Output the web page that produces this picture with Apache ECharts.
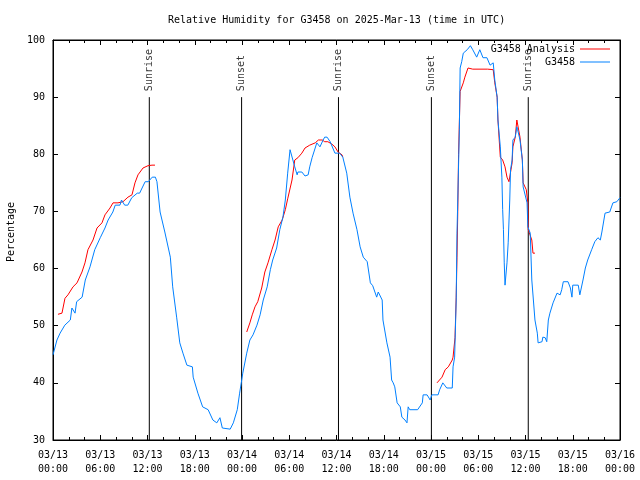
<!DOCTYPE html>
<html><head><meta charset="utf-8">
<script src="https://cdn.jsdelivr.net/npm/echarts@6/dist/echarts.min.js"></script>
<style>html,body{margin:0;padding:0;background:#fff}#c{width:640px;height:480px}</style>
</head><body><div id="c"></div>
<script>
// hours since 2025-03-13 00:00 UTC
const obsHours = [0,0.25,0.5,0.9,1.5,2.2,2.4,2.8,3.0,3.7,4.1,4.7,5.3,6.0,6.6,7.0,7.6,7.9,8.5,8.7,9.1,9.5,10.0,10.7,11.0,11.7,12.1,12.6,13.0,13.2,13.6,14.2,14.9,15.2,15.7,16.1,16.5,17.0,17.7,17.8,18.4,19.0,19.7,20.3,20.8,21.2,21.5,22.5,22.9,23.4,23.7,24.1,24.6,25.0,25.4,25.9,26.3,26.7,27.2,27.6,27.9,28.4,28.8,29.2,29.5,29.8,30.1,30.3,30.7,31.0,31.1,31.6,32.0,32.4,32.6,32.9,33.0,33.5,33.9,34.3,34.5,34.8,35.2,35.8,36.4,36.8,37.3,37.7,38.1,38.6,39.0,39.4,39.9,40.3,40.6,41.1,41.3,41.8,41.9,42.4,42.8,43.0,43.2,43.4,43.7,44.1,44.3,44.7,44.95,45.1,45.3,46.3,46.9,47.0,47.5,47.9,48.1,48.9,49.1,49.5,50.0,50.7,50.8,51.0,51.2,51.3,51.4,51.6,51.7,51.9,52.1,52.6,53.0,53.3,53.8,54.2,54.6,55.1,55.5,55.9,56.1,56.4,56.5,56.8,57.0,57.1,57.2,57.3,57.4,57.65,57.8,58.0,58.1,58.3,58.4,58.7,58.9,59.0,59.3,59.6,59.7,60.2,60.3,60.6,60.8,61.0,61.2,61.5,61.6,62.1,62.2,62.5,62.7,62.9,63.1,63.5,64.0,64.4,64.6,64.8,65.4,65.7,65.9,66.0,66.7,66.9,67.3,67.6,67.9,68.4,68.8,69.2,69.5,69.7,70.1,70.7,71.1,71.6,72.0];
const obsValues = [44.9,45.2,47.5,48.7,50.1,51.0,53.1,52.2,54.2,55.0,58.0,60.3,63.3,65.4,67.1,68.5,69.9,71.1,71.1,72.0,71.1,71.1,72.4,73.2,73.2,75.2,75.2,76.0,76.0,75.2,69.9,66.4,62.0,56.8,51.5,47.0,45.2,43.1,42.8,41.0,38.2,35.8,35.3,33.5,33.0,33.9,32.1,31.9,33.0,35.3,38.2,41.7,45.2,47.5,48.4,50.1,51.9,54.5,56.8,59.8,61.5,63.6,66.8,69.0,72.0,76.7,80.8,81.1,77.8,76.4,76.9,76.9,76.2,76.4,77.8,79.4,79.4,82.0,81.3,82.5,83.0,83.0,82.2,80.2,80.2,79.5,76.7,72.5,69.7,66.8,63.8,62.0,61.2,57.5,57.0,55.0,55.9,54.5,51.0,47.0,44.5,40.5,40.0,39.3,36.5,35.8,34.0,33.5,33.0,35.8,35.3,35.3,36.5,37.9,37.9,37.0,37.9,37.9,38.8,40.0,39.1,39.1,42.8,44.5,54.5,66.2,72.0,84.3,95.1,96.2,97.7,98.3,99.0,98.3,97.0,98.3,96.9,96.9,95.6,96.0,93.0,90.0,86.0,81.3,76.0,70.3,66.8,61.0,57.1,61.0,64.5,72.0,77.3,79.0,82.5,83.0,84.8,84.3,82.5,79.0,74.3,71.5,67.3,66.2,58.0,54.5,51.0,48.7,47.0,47.2,48.0,47.9,47.2,51.0,52.2,54.0,55.7,55.4,56.3,57.7,57.7,56.6,55.0,57.1,57.1,55.4,58.0,60.1,61.5,63.3,64.7,65.4,65.0,66.4,69.7,69.9,71.5,71.7,72.4];
// analysis; null = gap
const anaHours = [0.63,1.14,1.52,1.9,2.54,3.05,3.68,4.06,4.44,5.08,5.59,6.22,6.6,7.24,7.62,8.25,8.89,9.52,10.03,10.41,10.79,11.43,12.06,12.57,12.95, 18,
  24.6,25.0,25.3,25.65,26.0,26.5,26.9,27.3,27.8,28.2,28.6,29.1,29.5,29.8,30.35,30.7,31.1,31.6,32.0,32.6,33.3,33.7,34.2,34.5,34.9,35.4,35.8,36.2,36.7,36.8, 42,
  48.76,48.9,49.4,49.8,50.2,50.7,50.8,51.05,51.2,51.3,51.4,51.5,51.7,51.9,52.1,52.3,52.7,53.3,55.2,55.9,56.1,56.4,56.5,56.8,57.1,57.4,57.65,57.9,58.3,58.4,58.7,58.9,59.0,59.3,59.6,59.7,60.1,60.3,60.35,60.6,60.8,60.95,61.2];
const anaValues = [52.0,52.2,54.8,55.4,56.8,57.5,59.4,61.0,63.3,65.0,67.1,68.0,69.4,70.6,71.5,71.5,71.7,72.5,72.9,75.0,76.4,77.6,78.0,78.1,78.1, null,
  48.9,50.5,51.9,53.3,54.2,56.6,59.4,61.0,63.3,65.0,67.3,68.5,70.3,72.2,75.5,79.0,79.4,80.2,81.1,81.6,82.0,82.5,82.5,82.2,82.2,81.8,81.3,80.4,79.9,79.5, null,
  40.0,40.0,41.0,42.3,42.8,44.0,44.5,47.9,55.0,62.0,70.0,80.0,91.0,91.3,92.5,93.5,95.1,94.9,94.9,94.8,92.5,90.0,86.0,79.5,79.0,77.8,76.0,75.2,78.5,81.3,83.0,86.0,86.0,83.0,79.0,75.0,73.8,71.5,66.8,67.1,65.0,62.7,62.7];
const eventHours = [12.23, 23.95, 36.25, 48.05, 60.35];
const eventLabels = ['Sunrise', 'Sunset', 'Sunrise', 'Sunset', 'Sunrise'];
const yTicks = [30,40,50,60,70,80,90,100];

const FONT = 'DejaVu Sans Mono';
const obs = obsHours.map((h,i)=>[h, obsValues[i]]);
const ana = anaHours.map((h,i)=>[h, anaValues[i]]);
const evLines = [];
eventHours.forEach((h)=>{ evLines.push([h,30]); evLines.push([h,90]); evLines.push([h,null]); });
const evLabels = eventHours.map((h,i)=>[h, 90, eventLabels[i]]);

function fmtX(v){
  const d = 13 + Math.floor(v/24), hh = v % 24;
  return '03/' + d + '\n' + (hh<10?'0':'') + hh + ':00';
}
const tickCommon = {show:true, inside:true, length:5, lineStyle:{color:'#000'}};
const minorCommon = {show:true, splitNumber:3, length:3, lineStyle:{color:'#000'}};

const chart = echarts.init(document.getElementById('c'), null, {renderer:'canvas'});
chart.setOption({
  animation:false,
  backgroundColor:'#fff',
  title:{text:'Relative Humidity for G3458 on 2025-Mar-13 (time in UTC)', left:163, top:10,
    textStyle:{fontFamily:FONT, fontSize:10, fontWeight:'normal', color:'#000'}},
  legend:[
    {data:['G3458 Analysis'], right:30, top:44, padding:0, orient:'vertical', align:'right', itemWidth:30, itemHeight:10, itemGap:3,
     textStyle:{fontFamily:FONT, fontSize:10, color:'#000'}, icon:'path://M0,5L30,5L30,6L0,6Z'},
    {data:['G3458'], right:30, top:57, padding:0, orient:'vertical', align:'right', itemWidth:30, itemHeight:10, itemGap:3,
     textStyle:{fontFamily:FONT, fontSize:10, color:'#000'}, icon:'path://M0,5L30,5L30,6L0,6Z'}
  ],
  grid:{left:53, right:20, top:40, bottom:40, show:true, borderColor:'#000', borderWidth:1, outerBoundsMode:'none', containLabel:false},
  xAxis:[
    {type:'value', min:0, max:72, interval:6, position:'bottom',
     axisLine:{show:true, onZero:false, lineStyle:{color:'#000'}}, axisTick:tickCommon, minorTick:minorCommon,
     splitLine:{show:false}, minorSplitLine:{show:false},
     axisLabel:{formatter:fmtX, fontFamily:FONT, fontSize:10, color:'#000', margin:8, lineHeight:14}},
    {type:'value', min:0, max:72, interval:6, position:'top',
     axisLine:{show:true, onZero:false, lineStyle:{color:'#000'}}, axisTick:tickCommon, minorTick:minorCommon,
     splitLine:{show:false}, axisLabel:{show:false}}
  ],
  yAxis:[
    {type:'value', min:30, max:100, interval:10, name:'Percentage', nameLocation:'middle', nameGap:37, nameRotate:90,
     nameTextStyle:{fontFamily:FONT, fontSize:10, color:'#000', padding:[0,0,0,16]},
     axisLine:{show:true, onZero:false, lineStyle:{color:'#000'}}, axisTick:tickCommon, splitLine:{show:false},
     axisLabel:{fontFamily:FONT, fontSize:10, color:'#000', margin:8, formatter:(v)=>yTicks.includes(v)?String(v):''}},
    {type:'value', min:30, max:100, interval:10, position:'right',
     axisLine:{show:true, onZero:false, lineStyle:{color:'#000'}}, axisTick:tickCommon, splitLine:{show:false},
     axisLabel:{show:false}}
  ],
  series:[
    {name:'events', type:'line', data:evLines, symbol:'none', connectNulls:false, silent:true,
     lineStyle:{color:'#000', width:1}, z:1},
    {name:'eventLabels', type:'scatter', data:evLabels, symbolSize:0, silent:true, z:1,
     label:{show:true, position:'top', distance:6, rotate:90, align:'left', verticalAlign:'middle',
       formatter:(p)=>p.value[2], fontFamily:FONT, fontSize:10, color:'#000'}},
    {name:'G3458 Analysis', type:'line', data:ana, symbol:'none', connectNulls:false,
     lineStyle:{color:'#ff0000', width:1}, itemStyle:{color:'#ff0000'}, z:2},
    {name:'G3458', type:'line', data:obs, symbol:'none',
     lineStyle:{color:'#0080ff', width:1}, itemStyle:{color:'#0080ff'}, z:3}
  ]
});
</script></body></html>
